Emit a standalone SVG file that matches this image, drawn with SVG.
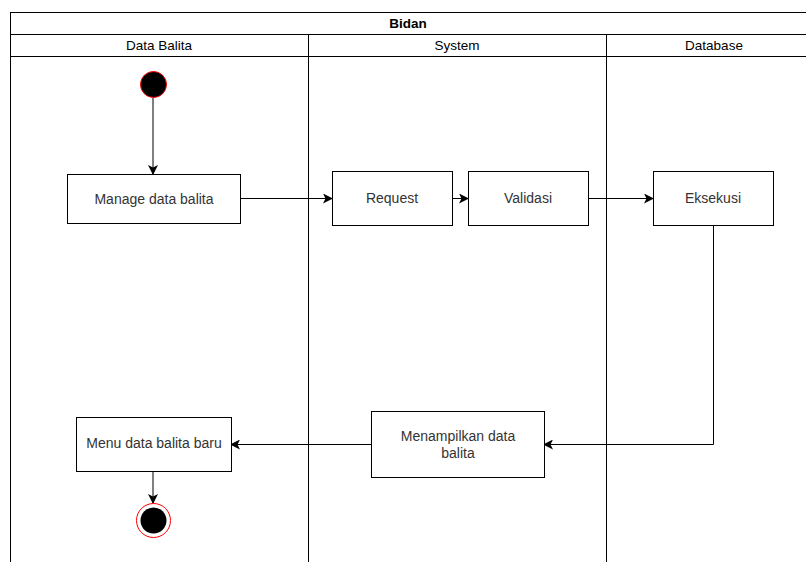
<svg xmlns="http://www.w3.org/2000/svg" width="806" height="562" viewBox="0 0 806 562">
  <style>
    .frame { fill: none; stroke: #000; stroke-width: 1; }
    .lane { fill: none; stroke: #000; stroke-width: 1; }
    .box { fill: #fff; stroke: #000; stroke-width: 1; }
    .hdr { font-family: "Liberation Sans", Arial, sans-serif; font-size: 13.5px; fill: #000; text-anchor: middle; }
    .title { font-weight: bold; }
    .lbl { font-family: "Liberation Sans", Arial, sans-serif; font-size: 14px; fill: #333; text-anchor: middle; }
    .edge { fill: none; stroke: #000; stroke-width: 1; }
  </style>
  <defs>
    <marker id="arrow" viewBox="0 0 10 10" refX="9" refY="5" markerWidth="10" markerHeight="10" markerUnits="userSpaceOnUse" orient="auto">
      <path d="M0,0 L10,5 L0,10 L2.5,5 Z" fill="#000"/>
    </marker>
  </defs>

  <!-- pool and swimlanes -->
  <g id="pool">
    <rect class="frame" x="10.5" y="12.5" width="800" height="560"/>
    <line class="lane" x1="10.5" y1="34.5" x2="806" y2="34.5"/>
    <line class="lane" x1="10.5" y1="56.5" x2="806" y2="56.5"/>
    <line class="lane" x1="308.5" y1="34.5" x2="308.5" y2="562"/>
    <line class="lane" x1="606.5" y1="34.5" x2="606.5" y2="562"/>
    <text class="hdr title" x="408" y="28">Bidan</text>
    <text class="hdr" x="159" y="50">Data Balita</text>
    <text class="hdr" x="457" y="50">System</text>
    <text class="hdr" x="714" y="50">Database</text>
  </g>

  <!-- connectors -->
  <g id="connectors">
    <line class="edge" x1="153" y1="98" x2="153" y2="174" marker-end="url(#arrow)"/>
    <line class="edge" x1="240" y1="198.5" x2="332" y2="198.5" marker-end="url(#arrow)"/>
    <line class="edge" x1="445" y1="198.5" x2="476" y2="198.5"/>
    <line class="edge" x1="458" y1="198.5" x2="468" y2="198.5" marker-end="url(#arrow)"/>
    <line class="edge" x1="588" y1="198.5" x2="653" y2="198.5" marker-end="url(#arrow)"/>
    <polyline class="edge" points="713.5,226 713.5,444.5 544,444.5" marker-end="url(#arrow)"/>
    <line class="edge" x1="371" y1="444.5" x2="231" y2="444.5" marker-end="url(#arrow)"/>
    <line class="edge" x1="153" y1="471" x2="153" y2="503" marker-end="url(#arrow)"/>
  </g>

  <g id="start">
    <circle cx="153.5" cy="84.5" r="13" fill="#000" stroke="#ff0000" stroke-width="1"/>
  </g>

  <g id="manage">
    <rect class="box" x="67.5" y="174.5" width="173" height="49"/>
    <text class="lbl" x="154" y="204">Manage data balita</text>
  </g>

  <g id="request">
    <rect class="box" x="332.5" y="171.5" width="120" height="54"/>
    <text class="lbl" x="392" y="203">Request</text>
  </g>

  <g id="validasi">
    <rect class="box" x="468.5" y="171.5" width="120" height="54"/>
    <text class="lbl" x="528" y="203">Validasi</text>
  </g>

  <g id="eksekusi">
    <rect class="box" x="653.5" y="171.5" width="120" height="54"/>
    <text class="lbl" x="713" y="203">Eksekusi</text>
  </g>

  <g id="menampilkan">
    <rect class="box" x="371.5" y="411.5" width="173" height="66"/>
    <text class="lbl" x="458" y="441">Menampilkan data</text>
    <text class="lbl" x="458" y="458">balita</text>
  </g>

  <g id="menu">
    <rect class="box" x="76.5" y="417.5" width="155" height="54"/>
    <text class="lbl" x="154" y="448">Menu data balita baru</text>
  </g>

  <g id="end">
    <circle cx="153.5" cy="520.5" r="17" fill="#fff" stroke="#ff0000" stroke-width="1"/>
    <circle cx="153.5" cy="520.5" r="13" fill="#000"/>
  </g>
</svg>
